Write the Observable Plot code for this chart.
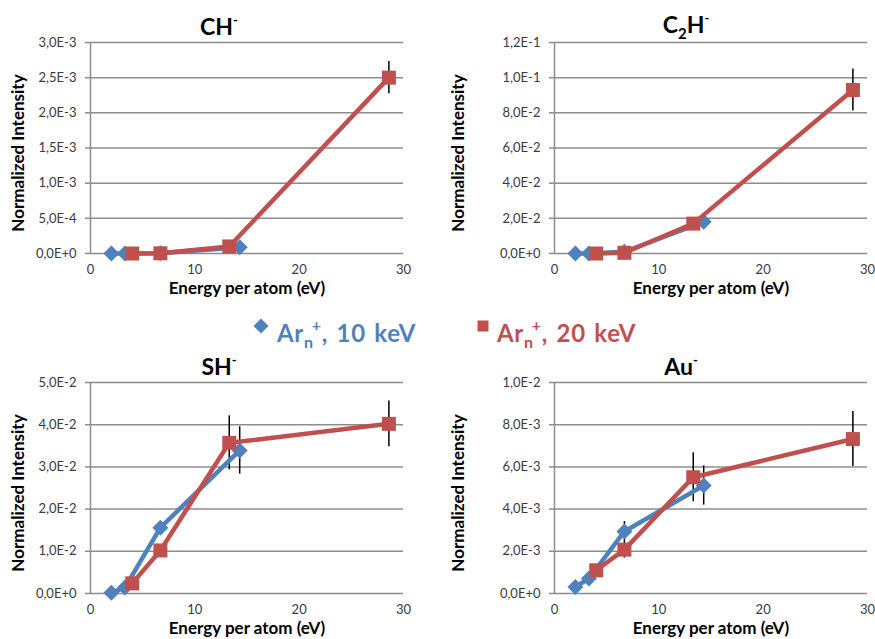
<!DOCTYPE html>
<html>
<head>
<meta charset="utf-8">
<script src="https://cdn.jsdelivr.net/npm/d3@7"></script>
<script src="https://cdn.jsdelivr.net/npm/@observablehq/plot@0.6"></script>
<style>
  body { margin: 0; background: #fff; }
  #root { position: relative; width: 875px; height: 639px; overflow: hidden; background: #fff; font-family: Lato, "Open Sans", sans-serif; }
  .panel { position: absolute; }
  .title { position: absolute; transform: translate(-50%, -50%); font-weight: bold; font-size: 23px; color: #000; white-space: nowrap; line-height: 1; }
  .title sup { font-size: 13px; vertical-align: 10px; }
  .title sub { font-size: 15px; vertical-align: -6px; }
  .leg { position: absolute; font-weight: bold; font-size: 24px; line-height: 24px; white-space: nowrap; letter-spacing: 0.7px; word-spacing: 2px; }
  .leg .n { font-size: 16px; vertical-align: -6px; }
  .leg .p { font-size: 16px; vertical-align: 11px; margin-left: -2px; }
</style>
</head>
<body>
<div id="root"></div>
<script>
// ---- data ----
const xBlue10 = [2.0, 3.3, 6.7, 14.3];   // Ar_n+, 10 keV energy per atom
const xRed20  = [4.0, 6.7, 13.3, 28.6];  // Ar_n+, 20 keV energy per atom
const xTicks = [0, 10, 20, 30];

const chBlue = [0, 0, 0.000005, 0.00009];
const chBlueErr = [0, 0, 0, 0];
const chRed = [0, 0.000003, 0.0001, 0.0025];
const chRedErr = [0, 0, 0, 0.00023];
const chTicks = [0, 0.0005, 0.001, 0.0015, 0.002, 0.0025, 0.003];

const c2hBlue = [0, 0, 0.001, 0.018];
const c2hBlueErr = [0, 0, 0, 0];
const c2hRed = [0, 0.0004, 0.017, 0.093];
const c2hRedErr = [0, 0, 0, 0.012];
const c2hTicks = [0, 0.02, 0.04, 0.06, 0.08, 0.10, 0.12];

const shBlue = [0.0002, 0.0014, 0.0156, 0.0339];
const shBlueErr = [0, 0, 0, 0.0056];
const shRed = [0.0024, 0.0102, 0.0357, 0.0402];
const shRedErr = [0, 0, 0.0064, 0.0054];
const shTicks = [0, 0.01, 0.02, 0.03, 0.04, 0.05];

const auBlue = [0.00031, 0.00071, 0.00294, 0.00512];
const auBlueErr = [0, 0, 0.00047, 0.00093];
const auRed = [0.0011, 0.00208, 0.00551, 0.00732];
const auRedErr = [0, 0.0004, 0.00116, 0.0013];
const auTicks = [0, 0.002, 0.004, 0.006, 0.008, 0.010];

const seriesNames = ["Ar_n+, 10 keV", "Ar_n+, 20 keV"];
const BLUE = "#4F81BD", RED = "#C0504D", GRID = "#8C8C8C";

const fmt = d => d.toExponential(1).replace(".", ",").replace("e", "E");

const root = document.getElementById("root");

function panel({left, top, width, height, mL, mR, mT, mB, ticks, blue, blueErr, red, redErr, titleHTML, titleX, titleY}) {
  const b = xBlue10.map((x, i) => ({x, y: blue[i], e: blueErr[i]}));
  const r = xRed20.map((x, i) => ({x, y: red[i], e: redErr[i]}));
  const errs = [...b, ...r].filter(d => d.e > 0);
  const chart = Plot.plot({
    width, height,
    marginLeft: mL, marginRight: mR, marginTop: mT, marginBottom: mB,
    style: {fontFamily: "Lato, 'Open Sans', sans-serif", background: "transparent", overflow: "visible"},
    x: {domain: [0, 30]},
    y: {domain: [0, ticks[ticks.length - 1]]},
    marks: [
      Plot.ruleY(ticks, {stroke: GRID, strokeWidth: 1.5}),
      Plot.ruleX([0], {stroke: GRID, strokeWidth: 1.5}),
      Plot.axisY({ticks, tickFormat: fmt, tickSize: 5, tickPadding: 9, stroke: GRID, strokeWidth: 1.5, fill: "#3a3a3a", fontSize: 13, label: null}),
      Plot.axisX({ticks: xTicks, tickSize: 0, tickPadding: 11, fill: "#3a3a3a", fontSize: 13, label: null}),
      Plot.ruleX(errs, {x: "x", y1: d => d.y - d.e, y2: d => d.y + d.e, stroke: "#000", strokeWidth: 1.5}),
      Plot.line(b, {x: "x", y: "y", stroke: BLUE, strokeWidth: 4.5}),
      Plot.dot(b, {x: "x", y: "y", symbol: "diamond2", r: 7.2, fill: BLUE}),
      Plot.line(r, {x: "x", y: "y", stroke: RED, strokeWidth: 4.5}),
      Plot.dot(r, {x: "x", y: "y", symbol: "square", r: 7.9, fill: RED}),
      Plot.text(["Energy per atom (eV)"], {frameAnchor: "bottom", dy: 40, fontWeight: "bold", fontSize: 17, fill: "#000"}),
      Plot.text(["Normalized Intensity"], {frameAnchor: "left", textAnchor: "middle", dx: -(mL - 18), dy: 5, rotate: -90, fontWeight: "bold", fontSize: 17, fill: "#000"})
    ]
  });
  const div = document.createElement("div");
  div.className = "panel";
  div.style.left = left + "px";
  div.style.top = top + "px";
  div.appendChild(chart);
  root.appendChild(div);
  const t = document.createElement("div");
  t.className = "title";
  t.style.left = titleX + "px";
  t.style.top = titleY + "px";
  t.innerHTML = titleHTML;
  root.appendChild(t);
}

panel({left: 0, top: 0, width: 440, height: 310, mL: 90, mR: 37, mT: 42, mB: 57, ticks: chTicks,
  blue: chBlue, blueErr: chBlueErr, red: chRed, redErr: chRedErr, titleHTML: "CH<sup>-</sup>", titleX: 219, titleY: 26});
panel({left: 440, top: 0, width: 435, height: 310, mL: 114, mR: 8, mT: 42, mB: 57, ticks: c2hTicks,
  blue: c2hBlue, blueErr: c2hBlueErr, red: c2hRed, redErr: c2hRedErr, titleHTML: "C<sub>2</sub>H<sup>-</sup>", titleX: 686, titleY: 26});
panel({left: 0, top: 330, width: 440, height: 309, mL: 90, mR: 37, mT: 52, mB: 46, ticks: shTicks,
  blue: shBlue, blueErr: shBlueErr, red: shRed, redErr: shRedErr, titleHTML: "SH<sup>-</sup>", titleX: 219, titleY: 366});
panel({left: 440, top: 330, width: 435, height: 309, mL: 114, mR: 8, mT: 52, mB: 46, ticks: auTicks,
  blue: auBlue, blueErr: auBlueErr, red: auRed, redErr: auRedErr, titleHTML: "Au<sup>-</sup>", titleX: 681, titleY: 366});

// ---- legend ----
function legendItem(x, textX, color, symbolSvg, label) {
  const s = document.createElementNS("http://www.w3.org/2000/svg", "svg");
  s.setAttribute("width", 18); s.setAttribute("height", 18);
  s.style.position = "absolute";
  s.style.left = (x - 9) + "px";
  s.style.top = (325.5 - 9) + "px";
  s.innerHTML = symbolSvg;
  root.appendChild(s);
  const d = document.createElement("div");
  d.className = "leg";
  d.style.color = color;
  d.style.left = textX + "px";
  d.style.top = "313px";
  const m = label.match(/^Ar_n\+(.*)$/);
  d.innerHTML = 'Ar<span class="n">n</span><span class="p">+</span>' + m[1];
  root.appendChild(d);
}
legendItem(260.5, 277, BLUE, `<polygon points="9,1.5 16.5,9 9,16.5 1.5,9" fill="${BLUE}"/>`, seriesNames[0]);
legendItem(483, 497, RED, `<rect x="3.5" y="3.5" width="11" height="11" fill="${RED}"/>`, seriesNames[1]);
</script>
</body>
</html>
